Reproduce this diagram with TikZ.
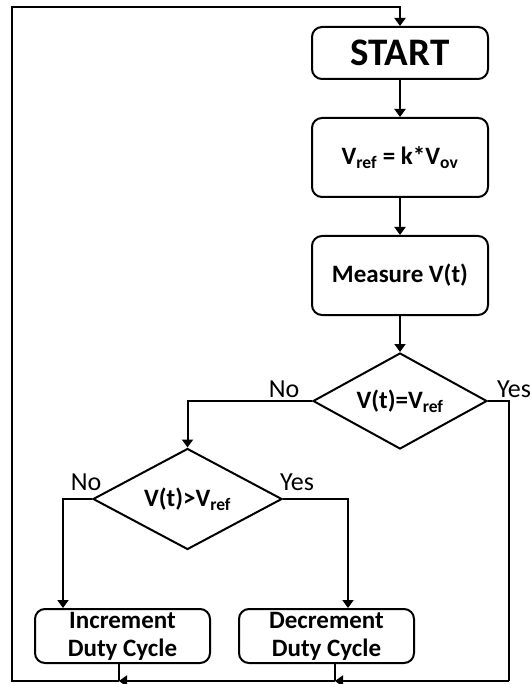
\documentclass[tikz,border=0pt]{standalone}
\usepackage{fontspec}
\setmainfont{Carlito}
\usetikzlibrary{arrows.meta,shapes.geometric}

\tikzset{
  flow/.style={line width=2pt, line join=miter},
  arr/.style={flow, -{Triangle[width=11pt,length=8pt]}},
  procbox/.style={draw, line width=2pt, rounded corners=10pt, align=center,
    inner sep=0pt, font=\fontsize{25}{28}\selectfont\bfseries},
  decide/.style={draw, diamond, aspect=2, line width=2pt, inner sep=0pt, align=center,
    font=\fontsize{25}{28}\selectfont\bfseries},
  answer/.style={font=\fontsize{26}{28}\selectfont, inner sep=0pt}
}

\begin{document}
\begin{tikzpicture}[x=1pt, y=-1pt]
  \useasboundingbox (0,0) rectangle (531,684);

  % main column of steps
  \node[procbox, minimum width=176pt, minimum height=52pt,
        font=\fontsize{39}{44}\selectfont\bfseries] (start) at (400,53) {START};
  \node[procbox, minimum width=176pt, minimum height=79pt] (vref) at (400,157.5)
        {V\textsubscript{ref} = k*V\textsubscript{ov}};
  \node[procbox, minimum width=176pt, minimum height=79pt] (meas) at (400,275.5)
        {Measure V(t)};

  % decisions
  \node[decide, minimum width=174pt, minimum height=96pt] (d1) at (400,401)
        {V(t)=V\textsubscript{ref}};
  \node[decide, minimum width=189pt, minimum height=101pt] (d2) at (187.5,499)
        {V(t)>V\textsubscript{ref}};

  % duty-cycle actions
  \node[procbox, minimum width=175pt, minimum height=54pt] (inc) at (122.5,636)
        {Increment\\Duty Cycle};
  \node[procbox, minimum width=175pt, minimum height=54pt] (dec) at (326.5,636)
        {Decrement\\Duty Cycle};

  % corner and junction points of the return loop
  \coordinate (yesc) at (509,401);
  \coordinate (br) at (509,681);
  \coordinate (j2) at (335,681);
  \coordinate (j1) at (119,681);
  \coordinate (tl) at (12,7);
  \coordinate (noc) at (63,499);
  \coordinate (yesc2) at (348,499);

  % straight flow
  \draw[arr] (start) -- (vref);
  \draw[arr] (vref) -- (meas);
  \draw[arr] (meas) -- (d1);

  % branches
  \draw[arr] (d1.west) -| (d2.north);
  \draw[arr] (d2.west) -- (noc) -- (noc |- inc.north);
  \draw[arr] (d2.east) -- (yesc2) -- (yesc2 |- dec.north);

  % return loop
  \draw[flow] (d1.east) -- (yesc) -- (br);
  \draw[arr] (br) -- (j2);
  \draw[arr] (j2) -- (j1);
  \draw[arr] (j1) -| (tl) -| (start.north);
  \draw[flow] (inc.south -| j1) -- (j1);
  \draw[flow] (dec.south -| j2) -- (j2);

  % answer labels
  \node[answer] (no1) at (284,389) {No};
  \node[answer] (yes1) at (514,389) {Yes};
  \node[answer] (no2) at (86,482) {No};
  \node[answer] (yes2) at (297,482) {Yes};
\end{tikzpicture}
\end{document}
